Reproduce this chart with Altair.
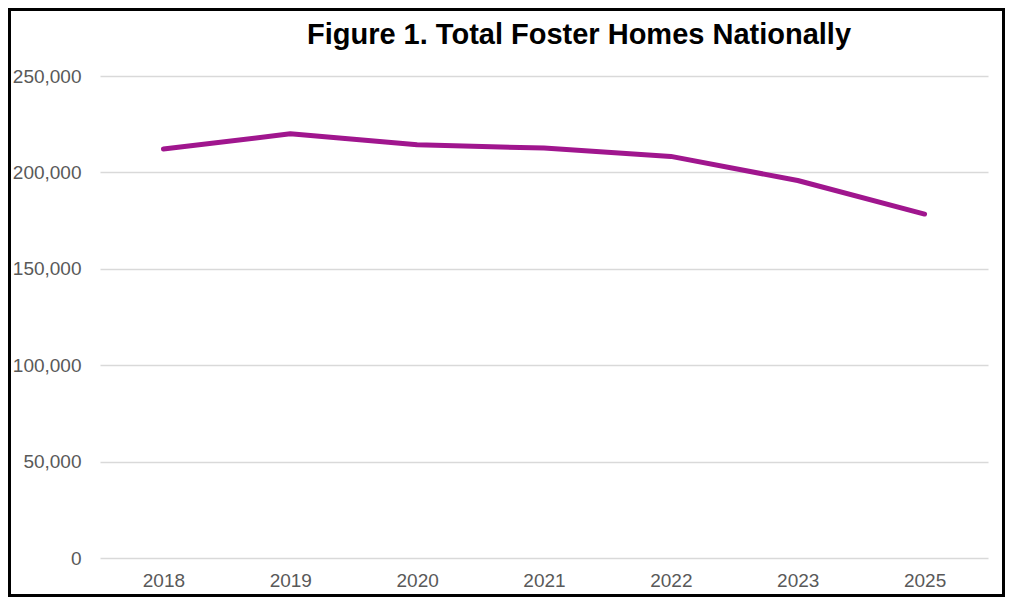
import altair as alt
import pandas as pd

years = ["2018", "2019", "2020", "2021", "2022", "2023", "2025"]
homes = [212100, 220000, 214300, 212600, 208300, 195800, 178400]

df = pd.DataFrame({"Year": years, "Homes": homes})

W, H = 888, 482
PL, PT, PR, PB = 92, 68, 17, 39

line = alt.Chart(df).mark_line(
    color="#A0168E", strokeWidth=5, strokeCap="round", strokeJoin="round"
).encode(
    x=alt.X("Year:O", sort=years,
            scale=alt.Scale(type="point", padding=0.5),
            axis=alt.Axis(title=None, labelAngle=0, domain=False, ticks=False,
                          labelPadding=13, labelFontSize=19, labelColor="#595959",
                          labelFont="Liberation Sans", grid=False)),
    y=alt.Y("Homes:Q",
            scale=alt.Scale(domain=[0, 250000], nice=False),
            axis=alt.Axis(title=None, values=[0, 50000, 100000, 150000, 200000, 250000],
                          format=",.0f", domain=False, ticks=False, labelPadding=19,
                          labelFontSize=19, labelColor="#595959",
                          labelFont="Liberation Sans",
                          grid=True, gridColor="#D9D9D9", gridWidth=1.5)),
)

border = alt.Chart(pd.DataFrame({"a": [0]})).mark_rect(
    fill=None, stroke="black", strokeWidth=3
).encode(
    x=alt.value(-PL + 1.5), x2=alt.value(W + PR - 1.5),
    y=alt.value(-PT + 1.5), y2=alt.value(H + PB - 1.5),
)

chart = alt.layer(border, line).properties(
    width=W, height=H,
    autosize=alt.AutoSizeParams(type="none"),
    padding={"left": PL, "top": PT, "right": PR, "bottom": PB},
    title=alt.TitleParams(
        "Figure 1. Total Foster Homes Nationally",
        font="Liberation Sans", fontSize=29, fontWeight="bold", color="black",
        anchor="middle", dx=35, dy=42, offset=0,
    ),
).configure_view(stroke=None)

chart.save("out.html", embed_options={"renderer": "svg", "actions": False})
